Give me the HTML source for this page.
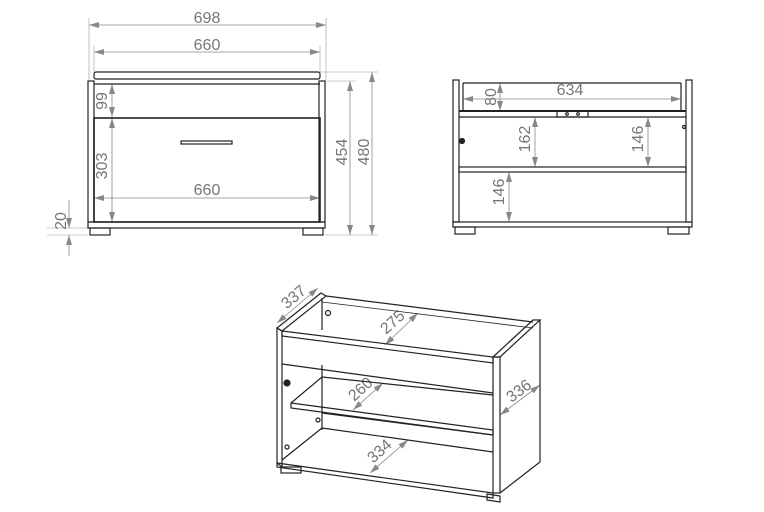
<!DOCTYPE html>
<html><head><meta charset="utf-8"><style>
html,body{margin:0;padding:0;background:#fff;}
svg{display:block;}
text{font-family:"Liberation Sans",sans-serif;font-size:16px;fill:#777;}
.o{stroke:#222;stroke-width:1.2;fill:none;}
.d{stroke:#888;stroke-width:0.8;fill:none;}
.e{stroke:#999;stroke-width:0.6;fill:none;}
</style></head><body>
<svg width="764" height="512" viewBox="0 0 764 512" xmlns="http://www.w3.org/2000/svg">
<defs>
<marker id="a" viewBox="0 0 10 6" refX="10" refY="3" markerWidth="10" markerHeight="6" orient="auto-start-reverse" markerUnits="userSpaceOnUse"><path d="M0,0 L10,3 L0,6 z" fill="#888"/></marker>
</defs>
<g class="d" marker-start="url(#a)" marker-end="url(#a)">
<line x1="89" y1="25" x2="326" y2="25"/>
<line x1="94" y1="52" x2="320" y2="52"/>
<line x1="112" y1="84" x2="112" y2="117"/>
<line x1="112" y1="118" x2="112" y2="222"/>
<line x1="94" y1="198" x2="320" y2="198"/>
<line x1="350" y1="81" x2="350" y2="235"/>
<line x1="372" y1="72" x2="372" y2="235"/>
<line x1="463" y1="99" x2="681" y2="99"/>
<line x1="500" y1="83" x2="500" y2="111"/>
<line x1="535" y1="117" x2="535" y2="167"/>
<line x1="648" y1="117" x2="648" y2="167"/>
<line x1="509" y1="172" x2="509" y2="222"/>
<line x1="277" y1="323" x2="318" y2="288"/>
<line x1="385" y1="345" x2="418" y2="313"/>
<line x1="353" y1="410" x2="383" y2="383"/>
<line x1="370" y1="473" x2="408" y2="440"/>
<line x1="500" y1="415" x2="540" y2="385"/>
</g>
<g class="d">
<line x1="69" y1="200" x2="69" y2="228" marker-end="url(#a)"/>
<line x1="69" y1="256" x2="69" y2="235" marker-end="url(#a)"/>
</g>
<g class="e">
<line x1="89" y1="18" x2="89" y2="80"/><line x1="326" y1="18" x2="326" y2="80"/>
<line x1="94" y1="46" x2="94" y2="72"/><line x1="320" y1="46" x2="320" y2="72"/>
<line x1="325" y1="81" x2="356" y2="81"/><line x1="320" y1="72" x2="378" y2="72"/>
<line x1="325" y1="235" x2="378" y2="235"/>
<line x1="47" y1="228" x2="88" y2="228"/><line x1="47" y1="235" x2="88" y2="235"/>
</g>
<g>
<text x="207" y="23" text-anchor="middle">698</text>
<text x="207" y="50" text-anchor="middle">660</text>
<text x="207" y="195" text-anchor="middle">660</text>
<text transform="translate(107,101) rotate(-90)" text-anchor="middle">99</text>
<text transform="translate(107,166) rotate(-90)" text-anchor="middle">303</text>
<text transform="translate(66,221) rotate(-90)" text-anchor="middle">20</text>
<text transform="translate(347,152) rotate(-90)" text-anchor="middle">454</text>
<text transform="translate(369,152) rotate(-90)" text-anchor="middle">480</text>
<text x="570" y="95" text-anchor="middle">634</text>
<text transform="translate(496,97) rotate(-90)" text-anchor="middle">80</text>
<text transform="translate(530,139) rotate(-90)" text-anchor="middle">162</text>
<text transform="translate(643,139) rotate(-90)" text-anchor="middle">146</text>
<text transform="translate(504,192) rotate(-90)" text-anchor="middle">146</text>
<text transform="translate(297,301) rotate(-40)" text-anchor="middle">337</text>
<text transform="translate(396,326) rotate(-42)" text-anchor="middle">275</text>
<text transform="translate(364,393) rotate(-42)" text-anchor="middle">260</text>
<text transform="translate(383,455) rotate(-42)" text-anchor="middle">334</text>
<text transform="translate(522,395) rotate(-37)" text-anchor="middle">336</text>
</g>
<!-- front view -->
<g class="o">
<rect x="94" y="72" width="226" height="7" rx="2"/>
<line x1="94" y1="84" x2="320" y2="84"/>
<rect x="88" y="81" width="6" height="141"/>
<rect x="319" y="81" width="6" height="141"/>
<rect x="94" y="118" width="226" height="104" stroke-width="1.6"/>
<rect x="181" y="141" width="51" height="3"/>
<rect x="88" y="222" width="237" height="6"/>
<rect x="90" y="228" width="20" height="7"/>
<rect x="303" y="228" width="20" height="7"/>
</g>
<!-- back view -->
<g class="o">
<rect x="453" y="80" width="6" height="142"/>
<rect x="686" y="80" width="6" height="142"/>
<line x1="463" y1="83" x2="681" y2="83"/>
<line x1="463" y1="83" x2="463" y2="111"/><line x1="681" y1="83" x2="681" y2="111"/>
<line x1="459" y1="111" x2="686" y2="111" stroke-width="2"/>
<line x1="459" y1="117" x2="686" y2="117"/>
<rect x="557" y="111" width="31" height="6"/>
<circle cx="567" cy="114" r="1.3"/><circle cx="578" cy="114" r="1.3"/>
<rect x="459" y="167" width="227" height="5"/>
<rect x="453" y="222" width="239" height="5"/>
<rect x="455" y="227" width="20" height="7"/>
<rect x="668" y="227" width="21" height="7"/>
<circle cx="462" cy="141" r="2.5" fill="#222"/>
<circle cx="684" cy="127" r="1.5"/>
</g>
<!-- 3D view -->
<g class="o">
<polygon points="277,328 282,331 282,467 277,463"/>
<polygon points="277,328 321,293 326,296 282,331"/>
<line x1="322" y1="298" x2="322" y2="330"/>
<line x1="326" y1="296" x2="533" y2="322"/>
<line x1="322" y1="302" x2="533" y2="328" stroke-width="0.8"/>
<polygon points="282,331 493,357 493,363 282,336"/>
<line x1="282" y1="364" x2="493" y2="393"/>
<rect x="493" y="357" width="7" height="136"/>
<polygon points="493,357 533,320 540,320 500,357"/>
<line x1="540" y1="320" x2="540" y2="462"/>
<line x1="500" y1="493" x2="540" y2="462"/>
<line x1="322" y1="365" x2="322" y2="430"/>
<line x1="322" y1="377" x2="493" y2="395"/>
<polygon points="291,403 493,430 493,435 291,408"/>
<line x1="291" y1="403" x2="322" y2="377"/>
<line x1="322" y1="413" x2="493" y2="435"/>
<line x1="322" y1="428" x2="493" y2="452"/>
<line x1="282" y1="460" x2="322" y2="428"/>
<polygon points="277,463 493,493 493,498 277,467"/>
<rect x="281" y="467" width="20" height="6"/>
<polygon points="487,494 500,496 500,502 487,500"/>
<circle cx="328" cy="313" r="2.5"/>
<circle cx="287" cy="383" r="3" fill="#222"/>
<circle cx="318" cy="420" r="2"/>
<circle cx="287" cy="447" r="2"/>
</g>
</svg>
</body></html>
